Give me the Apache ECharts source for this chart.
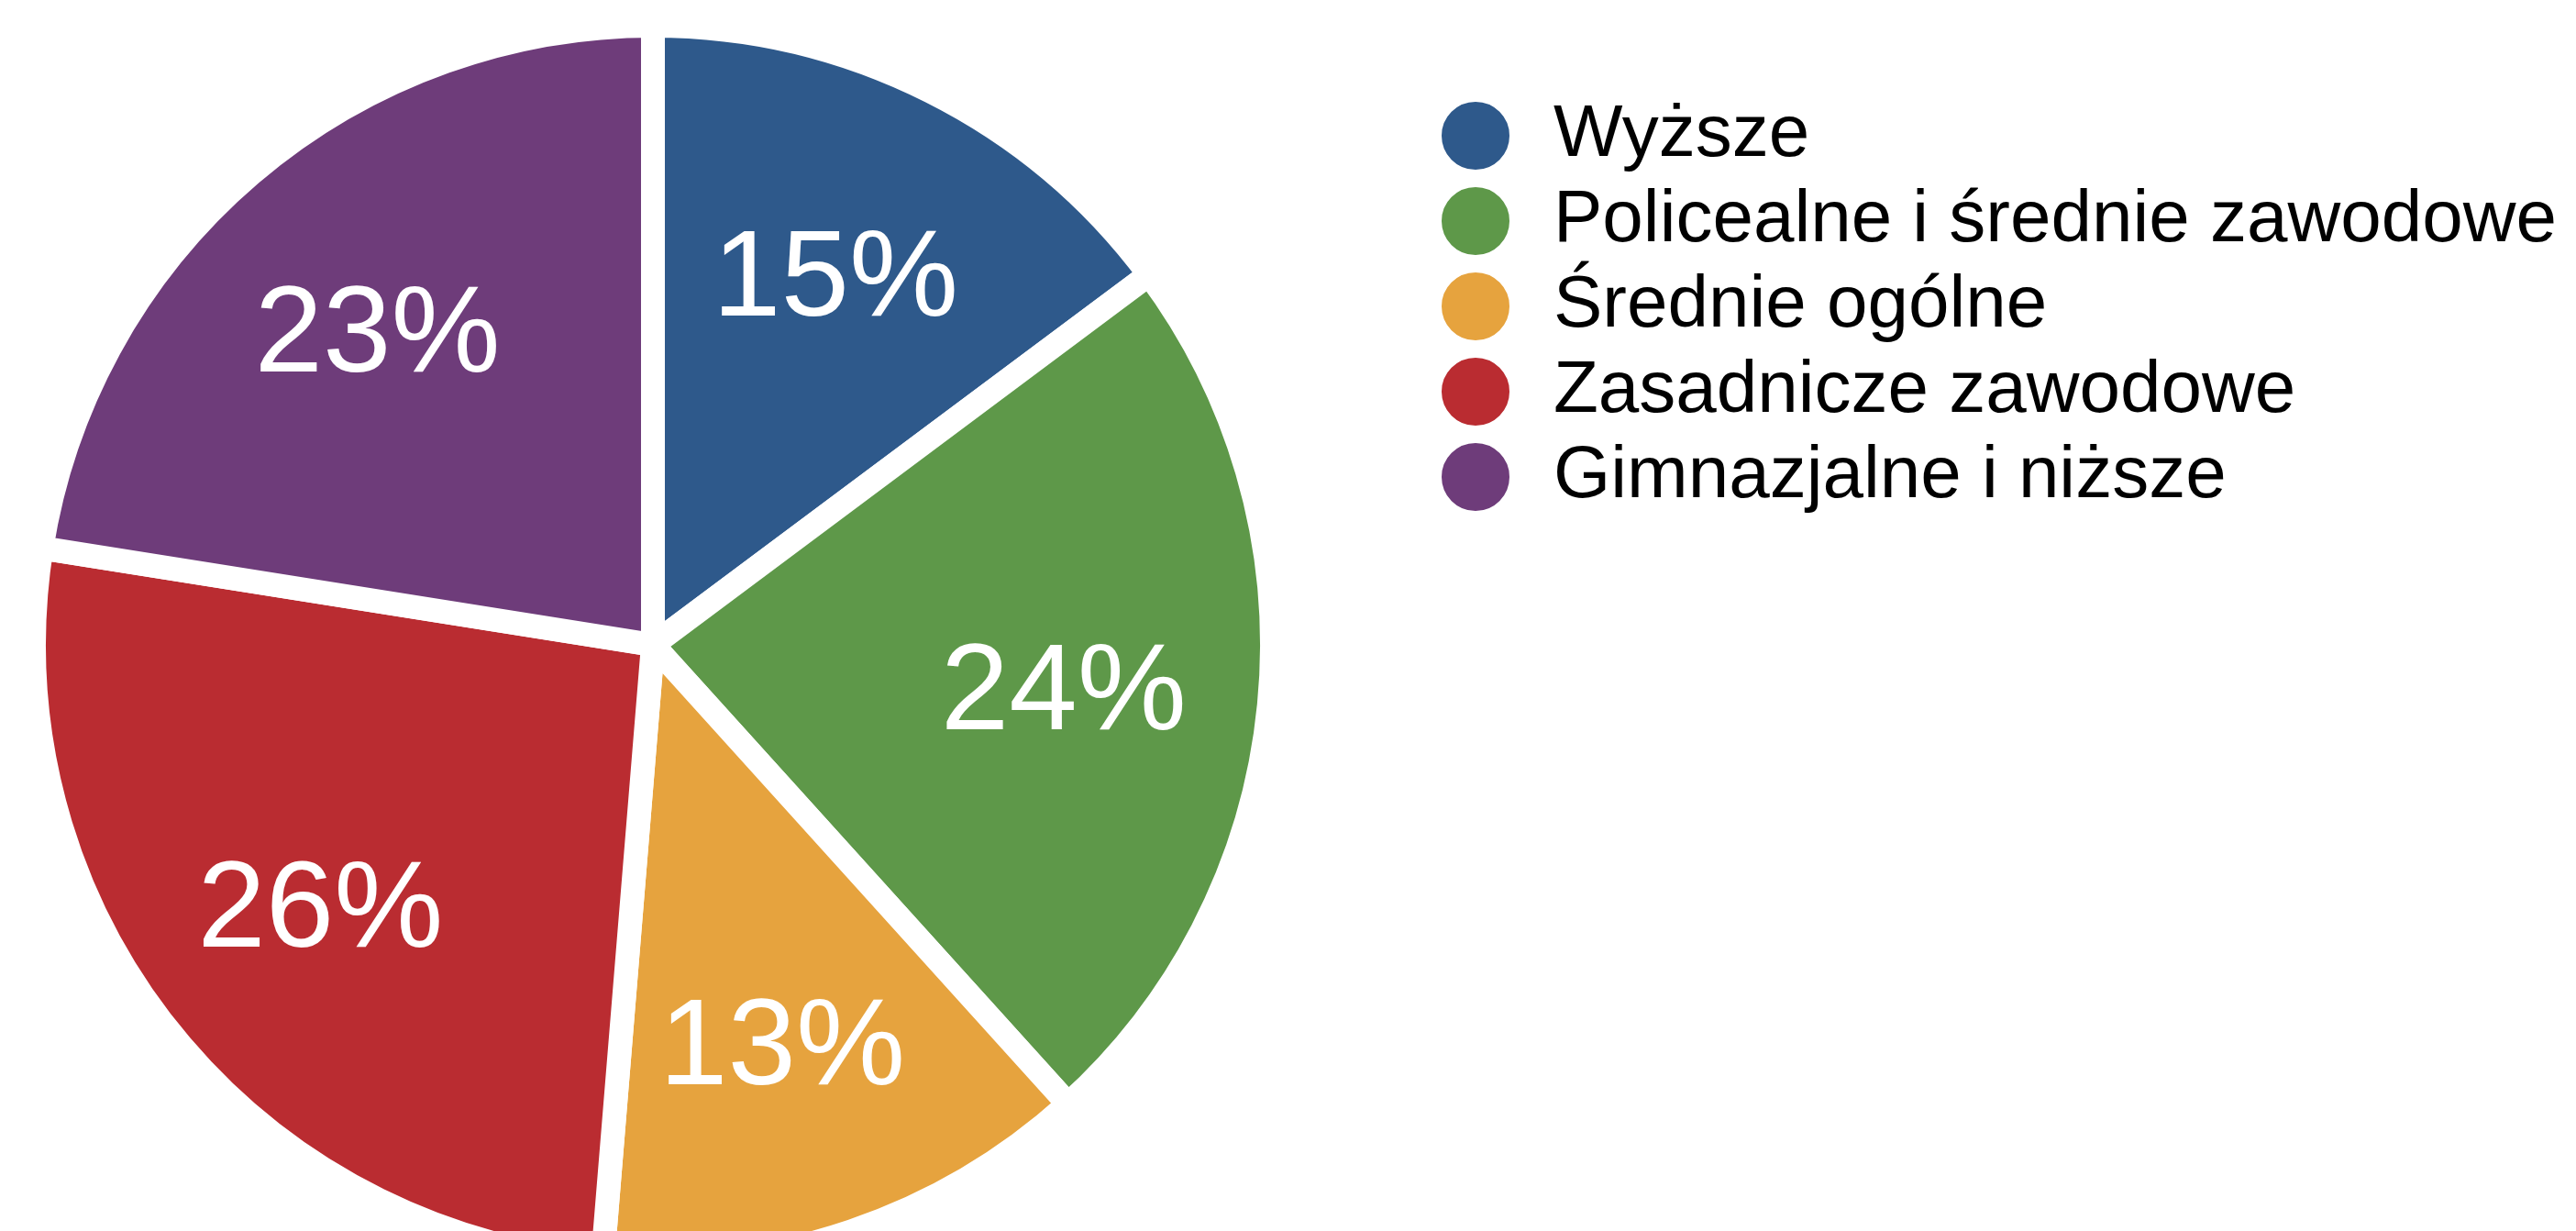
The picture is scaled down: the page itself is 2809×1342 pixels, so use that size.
<!DOCTYPE html>
<html>
<head>
<meta charset="utf-8">
<script src="https://cdn.jsdelivr.net/npm/echarts@6/dist/echarts.min.js"></script>
<style>
html,body{margin:0;padding:0;background:#fff;}
#chart{width:2809px;height:1342px;}
</style>
</head>
<body>
<div id="chart"></div>
<script>
const categories = ['Wyższe', 'Policealne i średnie zawodowe', 'Średnie ogólne', 'Zasadnicze zawodowe', 'Gimnazjalne i niższe'];
const shares = [14.8, 23.5, 13.0, 26.2, 22.5];
const colors = ['#2E598B', '#5E9849', '#E6A33E', '#BA2C31', '#6E3C7A'];

const FONT = '"Liberation Sans", Arial, Helvetica, sans-serif';
const center = [712, 703];
const labelCenter = [707, 714];

const pieData = categories.map((name, i) => ({ name: name, value: shares[i], itemStyle: { color: colors[i] } }));
const labelData = categories.map((name, i) => ({ name: name, value: shares[i] }));

const chart = echarts.init(document.getElementById('chart'), null, { renderer: 'canvas' });
chart.setOption({
  animation: false,
  backgroundColor: '#ffffff',
  legend: {
    orient: 'vertical',
    left: 1565,
    top: 103,
    itemWidth: 160,
    itemHeight: 76,
    itemGap: 13,
    icon: 'circle',
    data: categories,
    textStyle: { fontFamily: FONT, fontSize: 80, color: '#000000' },
    selectedMode: false
  },
  series: [
    {
      type: 'pie',
      center: center,
      radius: [0, 675],
      startAngle: 90,
      clockwise: true,
      silent: true,
      label: { show: false },
      labelLine: { show: false },
      itemStyle: { borderColor: '#ffffff', borderWidth: 26, borderJoin: 'miter' },
      emphasis: { disabled: true },
      data: pieData
    },
    {
      type: 'pie',
      center: labelCenter,
      radius: [230, 674],
      startAngle: 90,
      clockwise: true,
      silent: true,
      itemStyle: { color: 'rgba(0,0,0,0)', borderWidth: 0 },
      label: {
        show: true,
        position: 'inside',
        formatter: p => Math.round(p.value) + '%',
        color: '#ffffff',
        fontFamily: FONT,
        fontSize: 134
      },
      labelLine: { show: false },
      emphasis: { disabled: true },
      data: labelData
    }
  ]
});
</script>
</body>
</html>
